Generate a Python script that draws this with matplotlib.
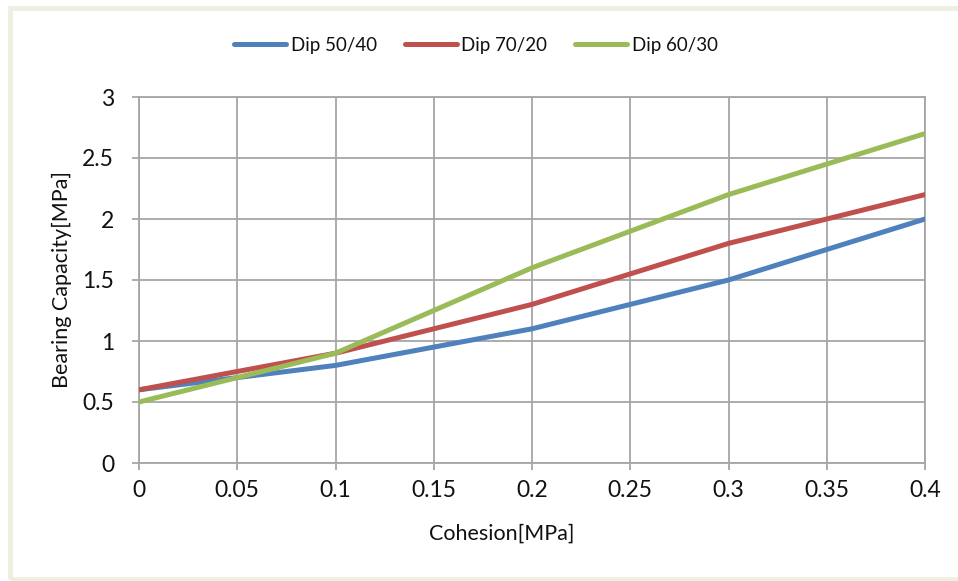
import matplotlib
matplotlib.use("Agg")
import matplotlib.pyplot as plt
from matplotlib.patches import Rectangle

cohesion = [0, 0.05, 0.1, 0.15, 0.2, 0.25, 0.3, 0.35, 0.4]
dip_50_40 = [0.6, 0.7, 0.8, 0.95, 1.1, 1.3, 1.5, 1.75, 2.0]
dip_70_20 = [0.6, 0.75, 0.9, 1.1, 1.3, 1.55, 1.8, 2.0, 2.2]
dip_60_30 = [0.5, 0.7, 0.9, 1.25, 1.6, 1.9, 2.2, 2.45, 2.7]
series_names = ["Dip 50/40", "Dip 70/20", "Dip 60/30"]
x_ticks = [0, 0.05, 0.1, 0.15, 0.2, 0.25, 0.3, 0.35, 0.4]
x_tick_labels = ["0", "0.05", "0.1", "0.15", "0.2", "0.25", "0.3", "0.35", "0.4"]
y_ticks = [0, 0.5, 1, 1.5, 2, 2.5, 3]
y_tick_labels = ["0", "0.5", "1", "1.5", "2", "2.5", "3"]

plt.rcParams["font.family"] = ["Lato", "DejaVu Sans"]

W, H = 958, 581
fig = plt.figure(figsize=(W / 100, H / 100), dpi=100)
fig.patch.set_facecolor("white")

# light frame around the chart area (open on the right)
fig.patches.append(Rectangle((10 / W, 1 - 579 / H), (W + 20) / W, 571 / H,
                             transform=fig.transFigure, fill=False,
                             edgecolor="#EEEEE2", linewidth=3.5, zorder=0))

ax = fig.add_axes([139 / W, 1 - 463 / H, (925 - 139) / W, (463 - 97) / H])

grid_c = "#A6A6A6"
text_c = "#111111"
colors = ["#4F81BD", "#C0504D", "#9BBB59"]
for vals, name, c in zip([dip_50_40, dip_70_20, dip_60_30], series_names, colors):
    ax.plot(cohesion, vals, color=c, lw=3.6, label=name, solid_capstyle="round",
            solid_joinstyle="round", zorder=3)

ax.set_xlim(0, 0.4)
ax.set_ylim(0, 3)
ax.set_xticks(x_ticks)
ax.set_xticklabels(x_tick_labels)
ax.set_yticks(y_ticks)
ax.set_yticklabels(y_tick_labels)
ax.grid(True, color=grid_c, lw=1.3)
ax.set_axisbelow(True)
for s in ax.spines.values():
    s.set_color(grid_c)
    s.set_linewidth(1.3)
ax.tick_params(axis="both", length=5, width=1.3, color=grid_c, labelsize=16.5,
               labelcolor=text_c)
ax.tick_params(axis="x", pad=7)
ax.tick_params(axis="y", pad=13)

ax.set_xlabel("Cohesion[MPa]", fontsize=15.5, color=text_c)
ax.set_ylabel("Bearing Capacity[MPa]", fontsize=15.5, color=text_c)
ax.xaxis.set_label_coords(0.462, -0.166)
ax.yaxis.set_label_coords(-0.085, 0.5)

leg = ax.legend(loc="center", bbox_to_anchor=(476 / W, 1 - 45 / H),
                bbox_transform=fig.transFigure, ncol=3, frameon=False,
                fontsize=13.5, handlelength=2.75, handletextpad=0.25,
                columnspacing=1.5)
for t in leg.get_texts():
    t.set_color(text_c)

fig.savefig("out.png", dpi=100)
